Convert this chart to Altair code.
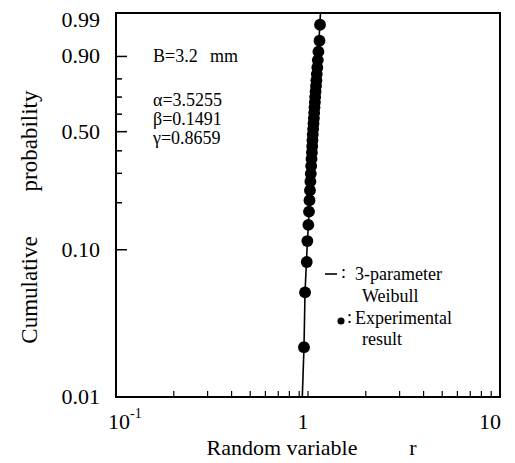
import math
import altair as alt
import pandas as pd

# ---- data ----
exp_r = [0.953, 0.965, 0.985, 0.992, 1.004, 1.012, 1.018, 1.024, 1.029, 1.034, 1.039,
         1.043, 1.048, 1.052, 1.055, 1.059, 1.064, 1.068, 1.073, 1.077, 1.081, 1.086,
         1.090, 1.095, 1.101, 1.106, 1.111, 1.118, 1.125, 1.133, 1.148, 1.155]
exp_F = [0.022, 0.052, 0.083, 0.114, 0.145, 0.176, 0.207, 0.238, 0.269, 0.299, 0.330,
         0.361, 0.392, 0.423, 0.454, 0.485, 0.515, 0.546, 0.577, 0.608, 0.639, 0.670,
         0.701, 0.732, 0.762, 0.793, 0.824, 0.855, 0.886, 0.917, 0.948, 0.978]

fit_r = [0.934, 0.953, 0.965, 0.988, 1.019, 1.034, 1.062, 1.090, 1.129, 1.161]
fit_F = [0.01, 0.022, 0.052, 0.10, 0.20, 0.30, 0.50, 0.70, 0.90, 0.99]

x_minor_ticks = [0.2, 0.3, 0.4, 0.5, 0.6, 0.7, 0.8, 0.9, 1, 2, 3, 4, 5, 6, 7, 8, 9]
x_tick_values = [0.1, 1, 10]
x_tick_labels = ["10", "1", "10"]
x_exponent = ["-1"]

y_major_ticks = [0.1, 0.5, 0.9]
y_minor_ticks = [0.2, 0.3, 0.4, 0.6, 0.7, 0.8]
y_tick_values = [0.99, 0.90, 0.50, 0.10, 0.01]
y_tick_labels = ["0.99", "0.90", "0.50", "0.10", "0.01"]

annot_texts = ["B=3.2", "mm", "α=3.5255", "β=0.1491", "γ=0.8659"]
legend_texts = ["3-parameter", "Weibull", "Experimental", "result"]
y_title_words = ["Cumulative", "probability"]
x_title_words = ["Random variable", "r"]

# ---- helpers ----
W = 384
H = 384
FONT = "Liberation Serif"
U = "log(-log(1-datum.F))"
ymin = math.log(-math.log(1 - 0.01))
ymax = math.log(-math.log(1 - 0.99))
xs = alt.Scale(type="log", domain=[0.1, 10], nice=False)
ys = alt.Scale(domain=[ymin, ymax], nice=False, zero=False)


def text_at(label, x, y, align="left", size=18, angle=0):
    return alt.Chart(pd.DataFrame({"t": [label]})).mark_text(
        align=align, baseline="middle", font=FONT, fontSize=size, color="black", angle=angle
    ).encode(x=alt.value(x), y=alt.value(y), text="t:N")


def xlabel(i, dx, size=22, y=409, lab=None, align="center"):
    return alt.Chart(pd.DataFrame({"v": [x_tick_values[i]],
                                   "lab": [lab if lab is not None else x_tick_labels[i]]})).mark_text(
        align=align, baseline="middle", font=FONT, fontSize=size, color="black", dx=dx
    ).encode(x=alt.X("v:Q", scale=xs, axis=None), y=alt.value(y), text="lab:N")


fit_df = pd.DataFrame({"r": fit_r, "F": fit_F})
exp_df = pd.DataFrame({"r": exp_r, "F": exp_F})

line = alt.Chart(fit_df).transform_calculate(u=U).mark_line(
    color="black", strokeWidth=1.6
).encode(
    x=alt.X("r:Q", scale=xs, axis=None),
    y=alt.Y("u:Q", scale=ys, axis=None),
    order="F:Q",
)

points = alt.Chart(exp_df).transform_calculate(u=U).mark_circle(
    size=140, color="black", opacity=1
).encode(
    x=alt.X("r:Q", scale=xs, axis=None),
    y=alt.Y("u:Q", scale=ys, axis=None),
)

xticks = alt.Chart(pd.DataFrame({"v": x_minor_ticks})).mark_rule(
    color="black", strokeWidth=1.2
).encode(
    x=alt.X("v:Q", scale=xs, axis=None), y=alt.value(H), y2=alt.value(H - 6)
)

ymaj = alt.Chart(pd.DataFrame({"F": y_major_ticks})).transform_calculate(u=U).mark_rule(
    color="black", strokeWidth=1.5
).encode(y=alt.Y("u:Q", scale=ys, axis=None), x=alt.value(0), x2=alt.value(11))

ymin_t = alt.Chart(pd.DataFrame({"F": y_minor_ticks})).transform_calculate(u=U).mark_rule(
    color="black", strokeWidth=1.5
).encode(y=alt.Y("u:Q", scale=ys, axis=None), x=alt.value(0), x2=alt.value(6))

ylab_df = pd.DataFrame({"F": y_tick_values, "lab": y_tick_labels})
ylabels_top = alt.Chart(ylab_df.iloc[:1]).transform_calculate(u=U).mark_text(
    align="right", baseline="middle", font=FONT, fontSize=22, color="black", dy=7
).encode(y=alt.Y("u:Q", scale=ys, axis=None), x=alt.value(-16), text="lab:N")
ylabels = alt.Chart(ylab_df.iloc[1:]).transform_calculate(u=U).mark_text(
    align="right", baseline="middle", font=FONT, fontSize=22, color="black"
).encode(y=alt.Y("u:Q", scale=ys, axis=None), x=alt.value(-16), text="lab:N")

# legend
leg_line = alt.Chart(pd.DataFrame({"k": [0]})).mark_rule(color="black", strokeWidth=1.6).encode(
    x=alt.value(209), x2=alt.value(221), y=alt.value(261)
)
leg_dot = alt.Chart(pd.DataFrame({"k": [0]})).mark_circle(size=50, color="black", opacity=1).encode(
    x=alt.value(225), y=alt.value(308)
)

layers = [
    xticks, ymaj, ymin_t, line, points, ylabels_top, ylabels,
    xlabel(0, 3), xlabel(0, 14, size=14, y=401, lab=x_exponent[0], align="left"),
    xlabel(1, -5), xlabel(2, -10),
    leg_line, leg_dot,
    text_at(":", 225, 260),
    text_at(legend_texts[0], 239, 262),
    text_at(legend_texts[1], 246, 284),
    text_at(":", 231, 305),
    text_at(legend_texts[2], 239, 306),
    text_at(legend_texts[3], 246, 327),
    text_at(annot_texts[0], 37, 44),
    text_at(annot_texts[1], 94, 44),
    text_at(annot_texts[2], 37, 88),
    text_at(annot_texts[3], 37, 107),
    text_at(annot_texts[4], 37, 126),
    text_at(y_title_words[0], -86, 277, align="center", size=23, angle=270),
    text_at(y_title_words[1], -86, 128, align="center", size=23, angle=270),
    text_at(x_title_words[0], 166, 435, align="center", size=22),
    text_at(x_title_words[1], 297, 435, align="center", size=22),
]

chart = alt.layer(*layers).properties(
    width=W, height=H,
    autosize=alt.AutoSizeParams(type="none"),
    padding={"left": 108, "top": 5, "right": 7, "bottom": 66},
).configure_view(stroke="black", strokeWidth=2)

chart.save("out.html", embed_options={"renderer": "svg", "actions": False})
